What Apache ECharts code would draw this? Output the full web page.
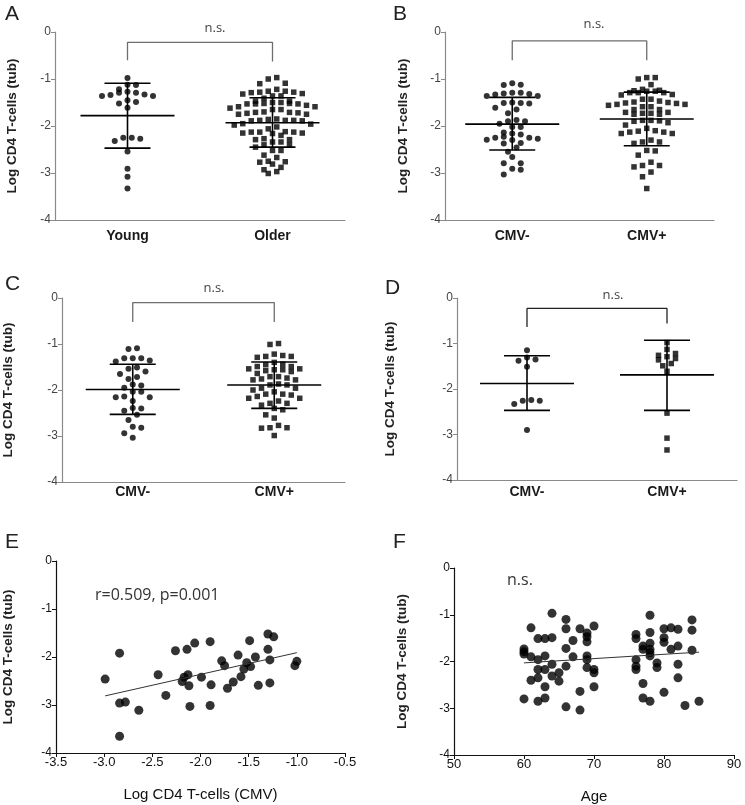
<!DOCTYPE html>
<html><head><meta charset="utf-8">
<script src="https://cdn.jsdelivr.net/npm/echarts@6.0.0/dist/echarts.min.js"></script>
<style>html,body{margin:0;padding:0;background:#fff}#c{width:745px;height:805px}</style>
</head><body><div id="c"></div><script>
// ---------- data ----------
const catsA = ['Young', 'Older'];
const aYoung = [-0.98,-1.13,-1.12,-1.22,-1.29,-1.33,-1.36,-1.36,-1.34,-1.29,-1.27,-1.49,-1.52,-1.45,-1.61,-2.25,-2.27,-2.32,-2.25,-2.54,-2.91,-3.08,-3.33];
const aOlder = [-1.00,-0.97,-1.10,-1.09,-1.22,-1.26,-1.28,-1.32,-1.36,-1.41,-1.36,-1.31,-1.29,-1.28,-1.26,-1.47,-1.50,-1.52,-1.53,-1.53,-1.59,-1.62,-1.59,-1.56,-1.53,-1.52,-1.50,-1.47,-1.65,-1.71,-1.75,-1.71,-1.65,-1.75,-1.72,-1.73,-1.70,-1.88,-1.95,-1.96,-2.02,-1.88,-1.85,-1.98,-1.89,-1.88,-1.89,-1.86,-2.13,-2.15,-2.20,-2.12,-2.16,-2.13,-2.06,-2.15,-2.13,-2.29,-2.34,-2.29,-2.27,-2.40,-2.45,-2.40,-2.34,-2.52,-2.62,-2.52,-2.67,-2.77,-2.75,-2.76,-2.81,-2.93,-3.01,-2.97,-2.88];
const statsA = [[-1.78,-1.09,-2.47],[-1.93,-1.40,-2.45]]; // mean, mean+SD, mean-SD

const catsCMV = ['CMV-', 'CMV+'];
const bNeg = [-1.09,-1.13,-1.12,-1.29,-1.32,-1.36,-1.36,-1.33,-1.31,-1.29,-1.51,-1.52,-1.51,-1.50,-1.73,-1.61,-1.65,-1.90,-1.95,-1.87,-1.90,-2.02,-2.02,-2.14,-2.18,-2.25,-2.29,-2.27,-2.30,-2.36,-2.25,-2.23,-2.16,-2.37,-2.55,-2.46,-2.66,-2.79,-2.79,-2.91,-2.93,-3.03];
const bPos = [-0.97,-1.12,-1.00,-0.97,-1.24,-1.26,-1.29,-1.29,-1.34,-1.33,-1.29,-1.26,-1.25,-1.22,-1.43,-1.49,-1.51,-1.54,-1.56,-1.59,-1.59,-1.54,-1.52,-1.50,-1.47,-1.43,-1.65,-1.71,-1.73,-1.75,-1.75,-1.73,-1.71,-1.65,-1.88,-1.93,-1.88,-1.98,-1.90,-1.89,-2.11,-2.13,-2.16,-2.05,-2.16,-2.13,-2.10,-2.34,-2.37,-2.34,-2.30,-2.52,-2.62,-2.53,-2.84,-2.87,-2.84,-2.77,-2.98,-3.08,-3.33];
const statsB = [[-1.96,-1.39,-2.51],[-1.85,-1.28,-2.42]];

const cNeg = [-1.11,-1.09,-1.31,-1.31,-1.36,-1.31,-1.51,-1.60,-1.54,-1.65,-1.76,-1.72,-1.88,-1.95,-1.90,-2.04,-2.04,-2.14,-2.16,-2.24,-2.16,-2.39,-2.45,-2.40,-2.54,-2.65,-2.80,-2.82,-2.94,-3.04,-1.38];
const cPos = [-0.99,-1.01,-1.27,-1.29,-1.22,-1.27,-1.25,-1.40,-1.44,-1.49,-1.54,-1.56,-1.60,-1.64,-1.58,-1.56,-1.54,-1.49,-1.45,-1.71,-1.76,-1.78,-1.89,-1.89,-1.87,-1.78,-1.74,-1.71,-1.96,-2.04,-2.09,-2.09,-2.00,-2.14,-2.11,-1.96,-2.18,-2.29,-2.29,-2.33,-2.24,-2.18,-2.40,-2.43,-2.54,-2.61,-2.82,-2.82,-2.77,-2.83,-2.99];
const statsC = [[-1.99,-1.44,-2.53],[-1.89,-1.39,-2.40]];

const dNeg = [-1.15,-1.35,-1.31,-1.38,-1.51,-2.24,-2.26,-2.33,-2.26,-2.90];
const dPos = [-0.98,-1.22,-1.29,-1.13,-1.26,-1.49,-1.36,-1.33,-1.44,-1.61,-2.53,-3.08,-3.34];
const statsD = [[-1.88,-1.27,-2.47],[-1.69,-0.93,-2.47]];

const eX = [-2.99,-2.84,-2.84,-2.78,-2.84,-2.64,-2.44,-2.36,-2.26,-2.14,-2.06,-2.19,-2.17,-2.13,-2.12,-2.11,-1.99,-1.90,-1.89,-1.90,-1.78,-1.75,-1.72,-1.66,-1.61,-1.58,-1.55,-1.52,-1.49,-1.48,-1.43,-1.40,-1.30,-1.24,-1.30,-1.28,-1.28,-1.02,-1.00];
const eY = [-2.46,-1.92,-2.96,-2.94,-3.65,-3.11,-2.37,-2.80,-1.87,-1.84,-1.71,-2.51,-2.42,-2.37,-2.60,-3.03,-2.42,-1.68,-2.58,-3.01,-2.08,-2.18,-2.65,-2.52,-1.96,-2.41,-2.25,-2.12,-1.66,-2.20,-2.00,-2.59,-1.52,-1.58,-1.84,-2.06,-2.54,-2.18,-2.09];
const eFit = [[-2.99,-2.81],[-1.00,-1.91]];
const eText = 'r=0.509, p=0.001';

const fAge = [60,60,60,60,61,61,61,62,62,62,62,62,63,63,63,63,63,64,64,64,64,65,65,66,66,66,66,66,67,67,68,68,68,69,69,69,69,69,69,70,70,70,70,76,76,76,76,76,77,77,77,77,78,78,78,78,78,78,78,79,79,80,80,80,80,81,81,82,82,82,82,83,84,84,84,85];
const fY = [-1.73,-1.79,-1.84,-2.80,-1.28,-1.90,-2.40,-1.51,-1.96,-2.17,-2.35,-2.85,-1.51,-1.88,-2.17,-2.54,-2.78,-0.97,-1.49,-2.06,-2.31,-2.24,-2.42,-1.10,-1.30,-1.72,-2.10,-2.97,-1.55,-1.90,-1.30,-2.64,-3.04,-1.39,-1.47,-1.58,-1.88,-1.96,-2.13,-1.24,-2.17,-2.24,-2.54,-1.42,-1.51,-1.96,-2.10,-2.17,-1.67,-1.74,-2.47,-2.78,-1.01,-1.38,-1.61,-1.74,-1.81,-1.88,-2.85,-2.03,-2.13,-1.30,-1.49,-1.59,-2.66,-1.28,-1.74,-1.31,-1.67,-2.06,-2.35,-2.94,-1.11,-1.33,-1.76,-2.85];
const fFit = [[60,-2.03],[85,-1.80]];

const yTicks = [-4, 0, 1]; // min, max, interval
const yName = 'Log CD4 T-cells (tub)';

// ---------- layout ----------
const chart = echarts.init(document.getElementById('c'), null, {renderer: 'canvas'});
const option = {animation: false, backgroundColor: '#fff', grid: [], xAxis: [], yAxis: [], series: [], graphic: []};
const FONT = 'Liberation Sans, Arial, sans-serif';

// row-binned dot plot layout: points closer than rowH px share a row, spread around the centre
function swarm(values, cat, pxPerY, pxPerCat, rowH, spacing) {
  const idx = values.map((v, i) => i).sort((a, b) => values[b] - values[a]);
  const rows = []; let cur = null;
  for (const i of idx) {
    if (!cur || (values[cur[0]] - values[i]) * pxPerY > rowH) { cur = [i]; rows.push(cur); }
    else cur.push(i);
  }
  const out = new Array(values.length);
  rows.forEach(r => {
    const n = r.length;
    const pos = [];
    for (let k = 0; k < n; k++) pos.push(k - (n - 1) / 2);
    pos.sort((a, b) => Math.abs(a) - Math.abs(b) || b - a);
    r.forEach((i, j) => { out[i] = [cat + pos[j] * spacing / pxPerCat, values[i]]; });
  });
  return out;
}

function errRender(params, api) {
  const c = api.value(0);
  const pm = api.coord([c, api.value(1)]), ph = api.coord([c, api.value(2)]), pl = api.coord([c, api.value(3)]);
  const st = {stroke: '#000', lineWidth: 1.6};
  return {type: 'group', children: [
    {type: 'line', shape: {x1: pm[0] - 47, y1: pm[1], x2: pm[0] + 47, y2: pm[1]}, style: st},
    {type: 'line', shape: {x1: ph[0] - 23, y1: ph[1], x2: ph[0] + 23, y2: ph[1]}, style: st},
    {type: 'line', shape: {x1: pl[0] - 23, y1: pl[1], x2: pl[0] + 23, y2: pl[1]}, style: st},
    {type: 'line', shape: {x1: ph[0], y1: ph[1], x2: pl[0], y2: pl[1]}, style: st}
  ]};
}

function yAxisCfg(gi, gap, dark) {
  const col = dark ? '#111' : '#8a8a8a';
  return {type: 'value', gridIndex: gi, min: yTicks[0], max: yTicks[1], interval: yTicks[2],
    splitLine: {show: false},
    axisLine: {show: true, onZero: false, lineStyle: {color: col, width: 1.2}},
    axisTick: {show: true, length: 4, lineStyle: {color: col}},
    axisLabel: {fontFamily: FONT, fontSize: 12, color: dark ? '#111' : '#444', margin: 4},
    name: yName, nameLocation: 'middle', nameRotate: 90, nameGap: gap,
    nameTextStyle: {fontFamily: FONT, fontSize: 13.5, fontWeight: 'bold', color: '#222'}};
}

function addDotPanel(box, cats, groups, stats, br, yGap, catMargin) {
  const gi = option.grid.length;
  option.grid.push(box);
  option.xAxis.push({type: 'category', gridIndex: gi, data: cats, boundaryGap: true,
    axisLine: {onZero: false, lineStyle: {color: '#8a8a8a', width: 1.2}},
    axisTick: {alignWithLabel: true, length: 4, lineStyle: {color: '#8a8a8a'}},
    axisLabel: {fontFamily: FONT, fontWeight: 'bold', fontSize: 14, color: '#1a1a1a', margin: catMargin}});
  const xv = option.xAxis.length;
  option.xAxis.push({type: 'value', gridIndex: gi, min: -0.5, max: 1.5, show: false, axisLine: {onZero: false}});
  const yi = option.yAxis.length;
  option.yAxis.push(yAxisCfg(gi, yGap, false));
  const pxY = box.height / 4, pxX = box.width / 2;
  groups.forEach((vals, c) => {
    option.series.push({type: 'scatter', xAxisIndex: xv, yAxisIndex: yi, silent: true,
      symbol: c === 0 ? 'circle' : 'rect', symbolSize: c === 0 ? 6 : 5.5,
      itemStyle: {color: '#000'}, data: swarm(vals, c, pxY, pxX, 6.5, 8.5)});
  });
  option.series.push({type: 'custom', xAxisIndex: xv, yAxisIndex: yi, renderItem: errRender, clip: false, z: 5,
    data: stats.map((s, c) => [c, s[0], s[1], s[2]])});
  option.series.push({type: 'line', xAxisIndex: xv, yAxisIndex: yi, symbol: 'none', silent: true,
    lineStyle: {color: br.color, width: 1.3},
    data: [[0, br.l], [0, br.top], [1, br.top], [1, br.r]]});
}

addDotPanel({left: 55, top: 32, width: 290, height: 188}, catsA, [aYoung, aOlder], statsA,
  {top: -0.22, l: -0.60, r: -0.63, color: '#6e6e6e'}, 36, 9);
addDotPanel({left: 445, top: 32, width: 269, height: 188}, catsCMV, [bNeg, bPos], statsB,
  {top: -0.19, l: -0.60, r: -0.60, color: '#6e6e6e'}, 35, 9);
addDotPanel({left: 62, top: 298, width: 283, height: 184}, catsCMV, [cNeg, cPos], statsC,
  {top: -0.10, l: -0.52, r: -0.52, color: '#6e6e6e'}, 47, 3);
addDotPanel({left: 457, top: 298, width: 280, height: 182}, catsCMV, [dNeg, dPos], statsD,
  {top: -0.23, l: -0.64, r: -0.56, color: '#222'}, 60, 5);

function addXYPanel(box, xmin, xmax, xint, xName, xs, ys, fit, yGap, fmt) {
  const gi = option.grid.length;
  option.grid.push(box);
  const xi = option.xAxis.length;
  option.xAxis.push({type: 'value', gridIndex: gi, min: xmin, max: xmax, interval: xint,
    splitLine: {show: false},
    axisLine: {show: true, onZero: false, lineStyle: {color: '#111', width: 1.2}},
    axisTick: {show: true, length: 4, lineStyle: {color: '#111'}},
    axisLabel: {fontFamily: FONT, fontSize: 13, color: '#111', margin: 3, formatter: fmt},
    name: xName, nameLocation: 'middle', nameGap: 34,
    nameTextStyle: {fontFamily: FONT, fontSize: 15, color: '#111'}});
  const yi = option.yAxis.length;
  option.yAxis.push(yAxisCfg(gi, yGap, true));
  option.series.push({type: 'scatter', xAxisIndex: xi, yAxisIndex: yi, silent: true, symbolSize: 9,
    itemStyle: {color: '#000'}, data: xs.map((x, i) => [x, ys[i]])});
  option.series.push({type: 'line', xAxisIndex: xi, yAxisIndex: yi, symbol: 'none', silent: true,
    lineStyle: {color: '#333', width: 1}, data: fit});
}

addXYPanel({left: 56, top: 561, width: 289, height: 192}, -3.5, -0.5, 0.5, 'Log CD4 T-cells (CMV)', eX, eY, eFit, 41, v => v.toFixed(1));
addXYPanel({left: 454, top: 568, width: 280, height: 187}, 50, 90, 10, 'Age', fAge, fY, fFit, 45, v => String(v));

// panel letters and annotations
const letters = [['A', 5, 4], ['B', 393, 4], ['C', 5, 274], ['D', 385, 278], ['E', 5, 532], ['F', 393, 532]];
letters.forEach(([t, x, y]) => option.graphic.push({type: 'text', left: x, top: y,
  style: {text: t, font: '21px ' + FONT, fill: '#222'}}));
const notes = [['n.s.', 215, 28, 13], ['n.s.', 594, 24, 13], ['n.s.', 214, 288, 13], ['n.s.', 613, 295, 13]];
notes.forEach(([t, x, y, s]) => option.graphic.push({type: 'text', x: x, y: y,
  style: {text: t, font: s + 'px "Open Sans", sans-serif', fill: '#444', align: 'center', verticalAlign: 'middle'}}));
option.graphic.push({type: 'text', x: 95, y: 595, style: {text: eText, font: '16px "Open Sans", sans-serif', fill: '#333', verticalAlign: 'middle'}});
option.graphic.push({type: 'text', x: 507, y: 580, style: {text: 'n.s.', font: '16px "Open Sans", sans-serif', fill: '#333', verticalAlign: 'middle'}});

chart.setOption(option);
</script></body></html>
